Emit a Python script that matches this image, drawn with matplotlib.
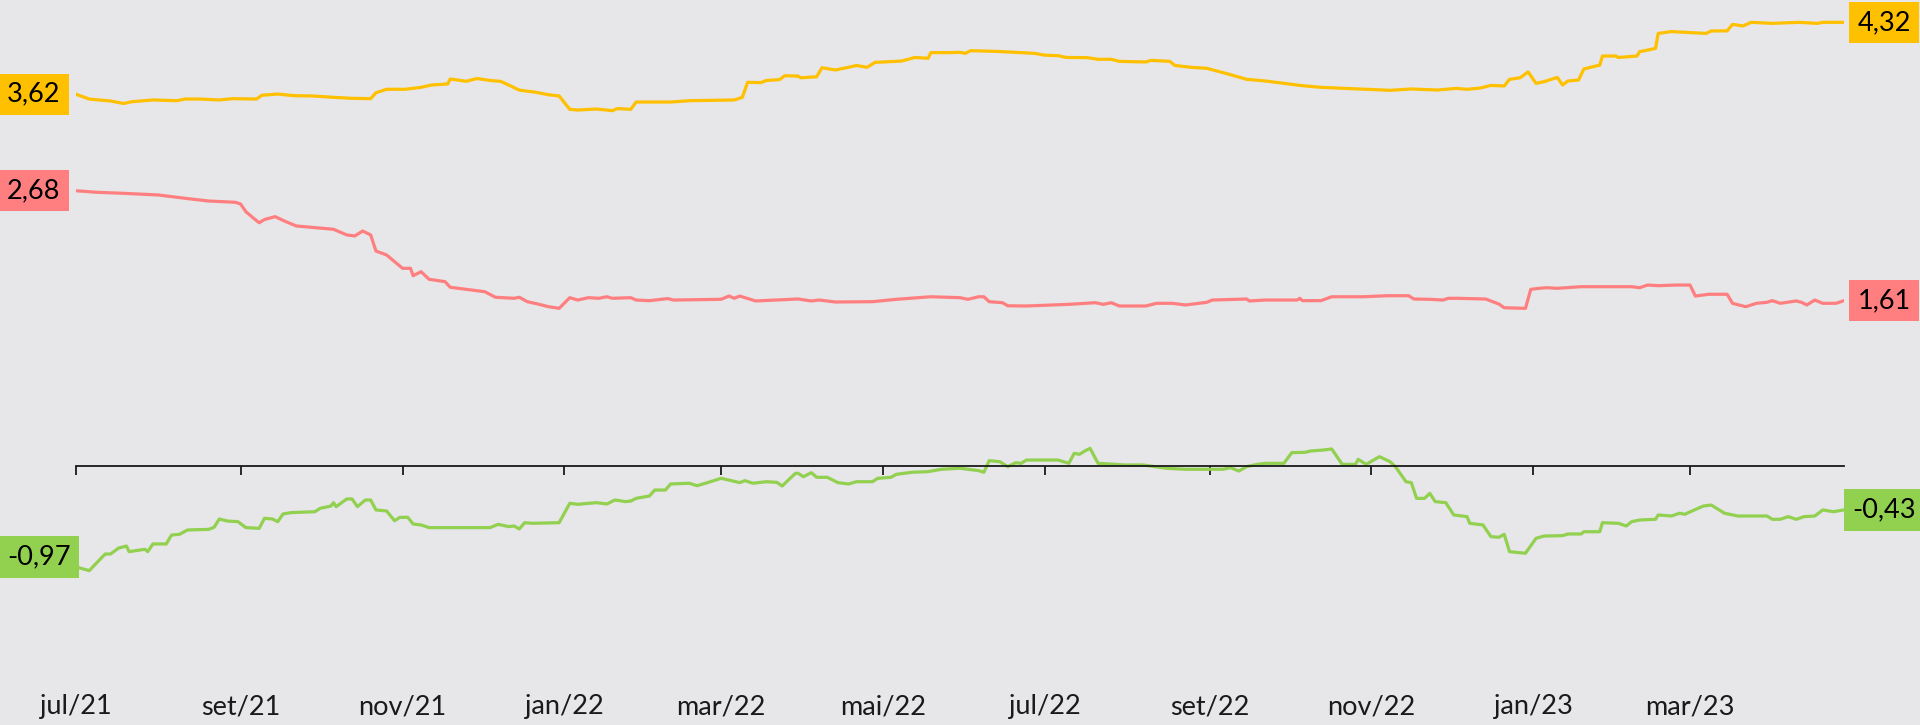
import matplotlib
matplotlib.use('Agg')
import matplotlib.pyplot as plt
import matplotlib.dates as mdates
import pandas as pd

plt.rcParams['font.family'] = ['Lato', 'DejaVu Sans']

START = '2021-07-01'

# days since 2021-07-01, values
yellow_days = [0, 5, 13, 18, 21, 29, 38, 41, 47, 54, 59, 68, 70, 76, 82, 89, 97, 104, 111, 113,
               117, 124, 130, 134, 140, 141, 147, 151, 156, 160, 163, 167, 173, 178, 182, 186, 189,
               196, 202, 204, 209, 211, 224, 231, 248, 251, 253, 258, 260, 265, 267, 272, 273, 279,
               281, 286, 291, 294, 298, 301, 311, 316, 321, 322, 329, 333, 335, 337, 347, 356, 361,
               365, 370, 373, 381, 385, 390, 393, 403, 405, 412, 414, 420, 426, 434, 441, 448, 455,
               462, 469, 478, 487, 495, 503, 513, 520, 524, 529, 533, 538, 540, 544, 547, 550, 553,
               557, 558, 560, 562, 566, 568, 574, 575, 580, 581, 588, 589, 595, 596, 601, 608, 614,
               616, 622, 624, 628, 631, 639, 649, 656, 658, 666]
yellow_vals = [3.62, 3.573, 3.554, 3.53, 3.547, 3.564, 3.557, 3.573, 3.573, 3.564, 3.577, 3.573,
               3.61, 3.622, 3.606, 3.603, 3.59, 3.58, 3.577, 3.635, 3.668, 3.668, 3.687, 3.71, 3.72,
               3.768, 3.746, 3.773, 3.754, 3.745, 3.71, 3.66, 3.64, 3.615, 3.603, 3.473, 3.466,
               3.476, 3.46, 3.48, 3.473, 3.544, 3.544, 3.557, 3.564, 3.59, 3.736, 3.733, 3.754,
               3.762, 3.80, 3.797, 3.78, 3.79, 3.878, 3.856, 3.882, 3.90, 3.882, 3.93, 3.943, 3.978,
               3.97, 4.025, 4.025, 4.028, 4.018, 4.044, 4.037, 4.025, 4.018, 4.00, 3.995, 3.978,
               3.976, 3.96, 3.96, 3.94, 3.934, 3.95, 3.94, 3.90, 3.882, 3.872, 3.817, 3.765, 3.749,
               3.726, 3.703, 3.687, 3.677, 3.668, 3.658, 3.671, 3.661, 3.677, 3.668, 3.68, 3.706,
               3.70, 3.765, 3.78, 3.837, 3.726, 3.742, 3.775, 3.784, 3.71, 3.749, 3.758, 3.866,
               3.904, 3.992, 3.992, 3.978, 3.992, 4.034, 4.066, 4.212, 4.23, 4.22, 4.212, 4.236,
               4.237, 4.30, 4.285, 4.32, 4.31, 4.32, 4.31, 4.32, 4.32]

red_days = [0, 8, 18, 31, 41, 50, 60, 62, 64, 67, 69, 71, 75, 79, 83, 89, 97, 102, 105, 108, 111,
            113, 117, 120, 123, 126, 127, 130, 133, 139, 141, 147, 154, 158, 165, 167, 170, 174,
            178, 182, 186, 189, 193, 197, 200, 202, 209, 211, 216, 223, 225, 243, 246, 248, 250,
            256, 272, 277, 280, 286, 300, 309, 322, 333, 336, 340, 342, 344, 349, 351, 358, 374,
            384, 387, 390, 393, 403, 407, 413, 418, 426, 428, 441, 442, 448, 460, 461, 462, 469,
            473, 485, 494, 502, 504, 510, 515, 517, 520, 531, 536, 538, 546, 548, 551, 554, 558,
            567, 586, 589, 592, 596, 603, 608, 610, 615, 622, 624, 629, 633, 637, 639, 642, 648,
            650, 652, 655, 658, 663, 666]
red_vals = [2.68, 2.665, 2.655, 2.639, 2.607, 2.58, 2.568, 2.551, 2.476, 2.41, 2.369, 2.40, 2.428,
            2.38, 2.337, 2.323, 2.305, 2.25, 2.24, 2.288, 2.25, 2.093, 2.055, 1.99, 1.925, 1.925,
            1.853, 1.892, 1.818, 1.795, 1.74, 1.72, 1.697, 1.643, 1.633, 1.643, 1.60, 1.577, 1.551,
            1.535, 1.639, 1.616, 1.639, 1.633, 1.648, 1.633, 1.639, 1.616, 1.61, 1.63, 1.616,
            1.623, 1.655, 1.633, 1.655, 1.607, 1.626, 1.607, 1.616, 1.597, 1.60, 1.623, 1.648,
            1.639, 1.623, 1.648, 1.648, 1.60, 1.59, 1.56, 1.558, 1.574, 1.59, 1.574, 1.59, 1.558,
            1.558, 1.584, 1.584, 1.568, 1.594, 1.616, 1.626, 1.607, 1.616, 1.616, 1.633, 1.61,
            1.61, 1.648, 1.648, 1.658, 1.658, 1.626, 1.623, 1.616, 1.633, 1.633, 1.626, 1.577,
            1.541, 1.535, 1.72, 1.73, 1.736, 1.73, 1.746, 1.746, 1.736, 1.762, 1.756, 1.762,
            1.762, 1.655, 1.672, 1.672, 1.584, 1.551, 1.584, 1.594, 1.61, 1.584, 1.607, 1.594,
            1.568, 1.616, 1.584, 1.584, 1.61]

green_days = [0, 1, 5, 7, 11, 13, 16, 19, 20, 26, 27, 29, 34, 36, 39, 42, 50, 52, 54, 57, 61, 64,
              69, 71, 74, 76, 78, 81, 90, 92, 96, 97, 98, 102, 104, 106, 109, 111, 113, 117, 120,
              122, 125, 127, 130, 133, 156, 159, 163, 165, 167, 169, 172, 182, 186, 189, 196, 200,
              203, 207, 209, 211, 216, 218, 222, 224, 231, 234, 239, 243, 247, 250, 252, 255, 260,
              264, 266, 271, 272, 274, 277, 279, 283, 287, 291, 294, 300, 302, 307, 309, 315, 321,
              326, 333, 340, 342, 344, 348, 351, 354, 356, 358, 370, 374, 376, 378, 380, 382, 385,
              390, 395, 402, 411, 418, 432, 435, 438, 441, 445, 448, 455, 458, 463, 465, 470, 473,
              477, 482, 483, 486, 491, 495, 497, 501, 503, 505, 508, 510, 512, 516, 519, 524, 525,
              530, 533, 536, 538, 540, 546, 550, 553, 560, 562, 567, 568, 574, 575, 581, 584, 586,
              589, 595, 596, 601, 604, 606, 609, 613, 616, 621, 626, 637, 639, 642, 645, 648, 651,
              655, 658, 662, 666]
green_vals = [-0.97, -0.99, -1.019, -0.964, -0.857, -0.857, -0.80, -0.779, -0.834, -0.811, -0.834,
              -0.759, -0.759, -0.672, -0.665, -0.623, -0.617, -0.597, -0.516, -0.536, -0.542,
              -0.60, -0.607, -0.509, -0.516, -0.542, -0.467, -0.454, -0.445, -0.412, -0.39,
              -0.357, -0.396, -0.321, -0.321, -0.396, -0.331, -0.331, -0.428, -0.438, -0.533,
              -0.50, -0.50, -0.565, -0.574, -0.60, -0.60, -0.568, -0.59, -0.584, -0.613, -0.552,
              -0.558, -0.552, -0.363, -0.373, -0.357, -0.37, -0.331, -0.347, -0.341, -0.315,
              -0.292, -0.234, -0.234, -0.175, -0.168, -0.192, -0.153, -0.12, -0.143, -0.162,
              -0.143, -0.168, -0.153, -0.159, -0.195, -0.071, -0.071, -0.104, -0.065, -0.11,
              -0.11, -0.162, -0.175, -0.153, -0.153, -0.12, -0.11, -0.081, -0.061, -0.055,
              -0.032, -0.022, -0.045, -0.061, 0.052, 0.042, -0.006, 0.032, 0.026, 0.058, 0.058,
              0.026, 0.123, 0.114, 0.146, 0.172, 0.026, 0.019, 0.01, 0.01, -0.023, -0.032, -0.032,
              -0.016, -0.049, -0.006, 0.016, 0.026, 0.026, 0.13, 0.133, 0.146, 0.156, 0.166,
              0.016, 0.016, 0.065, 0.016, 0.091, 0.042, -0.006, -0.153, -0.162, -0.315, -0.315,
              -0.266, -0.347, -0.357, -0.477, -0.493, -0.558, -0.574, -0.688, -0.694, -0.665,
              -0.834, -0.85, -0.704, -0.682, -0.678, -0.662, -0.662, -0.64, -0.64, -0.552,
              -0.558, -0.584, -0.542, -0.526, -0.519, -0.477, -0.487, -0.46, -0.47, -0.435,
              -0.39, -0.38, -0.46, -0.487, -0.487, -0.519, -0.519, -0.493, -0.519, -0.493,
              -0.487, -0.428, -0.445, -0.428]

tick_dates = ['2021-07-01', '2021-09-01', '2021-11-01', '2022-01-01', '2022-03-01', '2022-05-01',
              '2022-07-01', '2022-09-01', '2022-11-01', '2023-01-01', '2023-03-01']
tick_labels = ['jul/21', 'set/21', 'nov/21', 'jan/22', 'mar/22', 'mai/22',
               'jul/22', 'set/22', 'nov/22', 'jan/23', 'mar/23']

BG = '#E7E6E8'
YELLOW = '#FFC000'
RED = '#FF7F80'
GREEN = '#92D050'
FS = 19.5

W, H = 1920, 725
fig = plt.figure(figsize=(W / 100, H / 100), dpi=100, facecolor=BG)
bottom_px = 32
ax = fig.add_axes([76 / W, bottom_px / H, (1844 - 76) / W, 1 - bottom_px / H])
ax.set_facecolor(BG)

start = pd.Timestamp(START)


def to_num(days):
    return mdates.date2num(start + pd.to_timedelta(days, unit='D'))


series = [(yellow_days, yellow_vals, YELLOW),
          (red_days, red_vals, RED),
          (green_days, green_vals, GREEN)]
for d, v, c in series:
    ax.plot(to_num(d), v, color=c, lw=2.3, solid_joinstyle='round', zorder=2)

ax.set_xlim(to_num([0])[0], to_num([666])[0])
px_per_unit = 102.7
axes_h = H - bottom_px
zero_above = (H - 466) - bottom_px
ax.set_ylim(-zero_above / px_per_unit, (axes_h - zero_above) / px_per_unit)

for s in ['top', 'left', 'right']:
    ax.spines[s].set_visible(False)
ax.spines['bottom'].set_position(('data', 0))
ax.spines['bottom'].set_linewidth(1.3)
ax.spines['bottom'].set_color('#1a1a1a')
ax.set_yticks([])
tick_nums = mdates.date2num(pd.to_datetime(tick_dates))
ax.set_xticks(tick_nums)
ax.tick_params(axis='x', direction='out', length=6.7, width=1.3, color='#1a1a1a',
               labelbottom=False)

sec = ax.secondary_xaxis(0.0)
sec.set_xticks(tick_nums, tick_labels)
sec.tick_params(length=0, pad=1, labelsize=FS, labelcolor='#1a1a1a')
sec.spines['bottom'].set_visible(False)


def fmt(v):
    return f"{v:.2f}".replace('.', ',')


box = dict(boxstyle='square,pad=0.3', ec='none')
left_offsets = [0, 0, 8.6 * 0.72]
for (d, v, c), off in zip(series, left_offsets):
    ax.annotate(fmt(v[0]), xy=(7 / W, v[0]), xycoords=('figure fraction', 'data'),
                xytext=(0, off), textcoords='offset points',
                ha='left', va='center', fontsize=FS, color='black',
                bbox=dict(box, fc=c), annotation_clip=False, zorder=5)
    ax.annotate(fmt(v[-1]), xy=(1884 / W, v[-1]), xycoords=('figure fraction', 'data'),
                ha='center', va='center', fontsize=FS, color='black',
                bbox=dict(box, fc=c), annotation_clip=False, zorder=5)

fig.savefig('out.png', dpi=100, facecolor=BG)
